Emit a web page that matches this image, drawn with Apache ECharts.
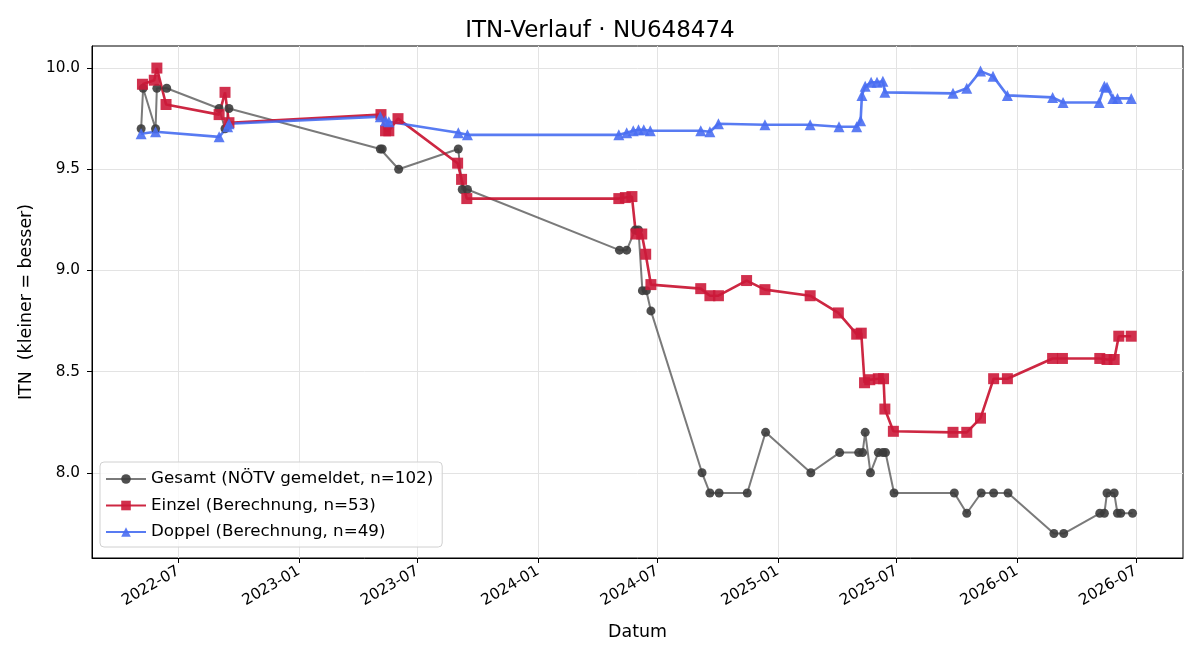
<!DOCTYPE html>
<html>
<head>
<meta charset="utf-8">
<script src="https://cdn.jsdelivr.net/npm/echarts@6/dist/echarts.min.js"></script>
<style>
  html, body { margin: 0; padding: 0; background: #fff; }
  #main { width: 1200px; height: 660px; }
</style>
</head>
<body>
<div id="main"></div>
<script>
// values
var gesamtDates = ['2022-05-05','2022-05-08','2022-05-27','2022-05-29','2022-06-13','2022-09-01','2022-09-10','2022-09-16',
  '2023-05-05','2023-05-08','2023-06-02','2023-09-01','2023-09-07','2023-09-15',
  '2024-05-04','2024-05-15','2024-05-28','2024-06-02','2024-06-08','2024-06-14','2024-06-21',
  '2024-09-07','2024-09-19','2024-10-03','2024-11-15','2024-12-13','2025-02-20','2025-04-05',
  '2025-05-04','2025-05-10','2025-05-14','2025-05-22','2025-06-03','2025-06-10','2025-06-14','2025-06-27',
  '2025-09-27','2025-10-16','2025-11-07','2025-11-26','2025-12-18','2026-02-26','2026-03-13',
  '2026-05-07','2026-05-14','2026-05-18','2026-05-29','2026-06-03','2026-06-08','2026-06-26'];
var gesamtValues = [9.7,9.9,9.7,9.9,9.9,9.8,9.7,9.8,
  9.6,9.6,9.5,9.6,9.4,9.4,
  9.1,9.1,9.2,9.2,8.9,8.9,8.8,
  8.0,7.9,7.9,7.9,8.2,8.0,8.1,
  8.1,8.1,8.2,8.0,8.1,8.1,8.1,7.9,
  7.9,7.8,7.9,7.9,7.9,7.7,7.7,
  7.8,7.8,7.9,7.9,7.8,7.8,7.8];

var einzelDates = ['2022-05-07','2022-05-25','2022-05-29','2022-06-12','2022-09-01','2022-09-10','2022-09-16',
  '2023-05-06','2023-05-13','2023-05-18','2023-06-01','2023-08-31','2023-09-06','2023-09-14',
  '2024-05-03','2024-05-13','2024-05-23','2024-05-29','2024-06-07','2024-06-13','2024-06-21',
  '2024-09-05','2024-09-19','2024-10-02','2024-11-14','2024-12-12','2025-02-19','2025-04-03',
  '2025-05-01','2025-05-08','2025-05-13','2025-05-21','2025-06-03','2025-06-11','2025-06-13','2025-06-26',
  '2025-09-25','2025-10-16','2025-11-06','2025-11-26','2025-12-17','2026-02-24','2026-03-11',
  '2026-05-07','2026-05-18','2026-05-29','2026-06-05','2026-06-24'];
var einzelValues = [9.92,9.94,10.0,9.82,9.77,9.88,9.73,
  9.77,9.69,9.69,9.75,9.53,9.45,9.355,
  9.355,9.36,9.365,9.18,9.18,9.08,8.93,
  8.91,8.875,8.875,8.95,8.905,8.875,8.79,
  8.685,8.69,8.445,8.46,8.465,8.465,8.315,8.205,
  8.2,8.2,8.27,8.465,8.465,8.565,8.565,
  8.565,8.56,8.56,8.675,8.675];

var doppelDates = ['2022-05-05','2022-05-27','2022-09-01','2022-09-14','2022-09-16',
  '2023-05-05','2023-05-13','2023-05-18','2023-09-01','2023-09-15',
  '2024-05-03','2024-05-15','2024-05-25','2024-06-02','2024-06-10','2024-06-20',
  '2024-09-05','2024-09-19','2024-10-02','2024-12-12','2025-02-19','2025-04-04',
  '2025-05-01','2025-05-07','2025-05-09','2025-05-14','2025-05-23','2025-06-01','2025-06-10','2025-06-13',
  '2025-09-25','2025-10-16','2025-11-06','2025-11-25','2025-12-17','2026-02-24','2026-03-12',
  '2026-05-06','2026-05-14','2026-05-18','2026-05-27','2026-06-03','2026-06-24'];
var doppelValues = [9.675,9.685,9.66,9.71,9.725,
  9.76,9.74,9.735,9.68,9.67,
  9.67,9.68,9.69,9.695,9.695,9.69,
  9.69,9.685,9.725,9.72,9.72,9.71,
  9.71,9.74,9.865,9.91,9.93,9.93,9.935,9.88,
  9.875,9.90,9.985,9.96,9.865,9.855,9.83,
  9.83,9.91,9.905,9.85,9.85,9.85];

var xTicks = ['2022-07-01','2023-01-01','2023-07-01','2024-01-01','2024-07-01','2025-01-01','2025-07-01','2026-01-01','2026-07-01'];
var yTicks = [8.0, 8.5, 9.0, 9.5, 10.0];

function ts(d) { return new Date(d + 'T00:00:00Z').getTime(); }
function pairs(dates, vals) {
  return dates.map(function (d, i) { return [ts(d), vals[i]]; });
}

var font = 'DejaVu Sans';
var myChart = echarts.init(document.getElementById('main'));

option = {
    animation: false,
    textStyle: {fontFamily: font},
    title: {
        text: 'ITN-Verlauf · NU648474',
        left: 'center',
        top: 15,
        textStyle: {fontFamily: font, fontSize: 23, fontWeight: 'normal', color: '#000'}
    },
    grid: {
        left: 92, right: 17, top: 46, bottom: 102,
        show: true, borderColor: '#000', borderWidth: 1
    },
    legend: {
        orient: 'vertical',
        left: 100,
        top: 462,
        itemWidth: 40,
        itemHeight: 12,
        itemGap: 8.5,
        padding: [8, 9, 6, 5],
        borderColor: '#d0d0d0',
        borderWidth: 1,
        borderRadius: 4,
        backgroundColor: 'rgba(255,255,255,0.8)',
        textStyle: {fontFamily: font, fontSize: 16.7, lineHeight: 18, color: '#000'}
    },
    xAxis: {
        type: 'value',
        min: ts('2022-02-19'),
        max: ts('2026-09-11'),
        name: 'Datum',
        nameLocation: 'middle',
        nameGap: 66,
        nameTextStyle: {fontFamily: font, fontSize: 17.4, color: '#000'},
        axisLine: {lineStyle: {color: '#000'}},
        axisTick: {show: true, length: 5, lineStyle: {color: '#000'},
                   customValues: xTicks.map(ts)},
        axisLabel: {
            rotate: 30,
            margin: 12,
            fontFamily: font, fontSize: 15.3, color: '#000',
            customValues: xTicks.map(ts),
            formatter: function (v) {
                var d = new Date(v);
                var m = d.getUTCMonth() + 1;
                return d.getUTCFullYear() + '-' + (m < 10 ? '0' + m : m);
            }
        },
        splitLine: {show: true, lineStyle: {color: '#e3e3e3', width: 1}}
    },
    yAxis: {
        type: 'value',
        min: 7.579,
        max: 10.109,
        name: 'ITN  (kleiner = besser)',
        nameLocation: 'middle',
        nameGap: 57,
        nameTextStyle: {fontFamily: font, fontSize: 17.4, color: '#000'},
        axisLine: {show: true, lineStyle: {color: '#000'}},
        axisTick: {show: true, length: 5, lineStyle: {color: '#000'}, customValues: yTicks},
        axisLabel: {
            fontFamily: font, fontSize: 15.3, color: '#000', margin: 12,
            customValues: yTicks,
            formatter: function (v) { return v.toFixed(1); }
        },
        splitLine: {show: true, lineStyle: {color: '#e3e3e3', width: 1}}
    },
    series: [
        {
            name: 'Gesamt (NÖTV gemeldet, n=102)',
            type: 'line',
            data: pairs(gesamtDates, gesamtValues),
            symbol: 'circle',
            symbolSize: 9,
            lineStyle: {color: '#555555', width: 2, opacity: 0.78},
            itemStyle: {color: '#3c3c3c', opacity: 0.9}
        },
        {
            name: 'Einzel (Berechnung, n=53)',
            type: 'line',
            data: pairs(einzelDates, einzelValues),
            symbol: 'rect',
            symbolSize: 11,
            lineStyle: {color: '#c8102e', width: 2.6, opacity: 0.9},
            itemStyle: {color: '#cc1a3a', opacity: 0.9}
        },
        {
            name: 'Doppel (Berechnung, n=49)',
            type: 'line',
            data: pairs(doppelDates, doppelValues),
            symbol: 'triangle',
            symbolSize: 11,
            lineStyle: {color: '#4169f0', width: 2.6, opacity: 0.88},
            itemStyle: {color: '#4a6ef2', opacity: 0.9}
        }
    ]
};

myChart.setOption(option);
</script>
</body>
</html>
